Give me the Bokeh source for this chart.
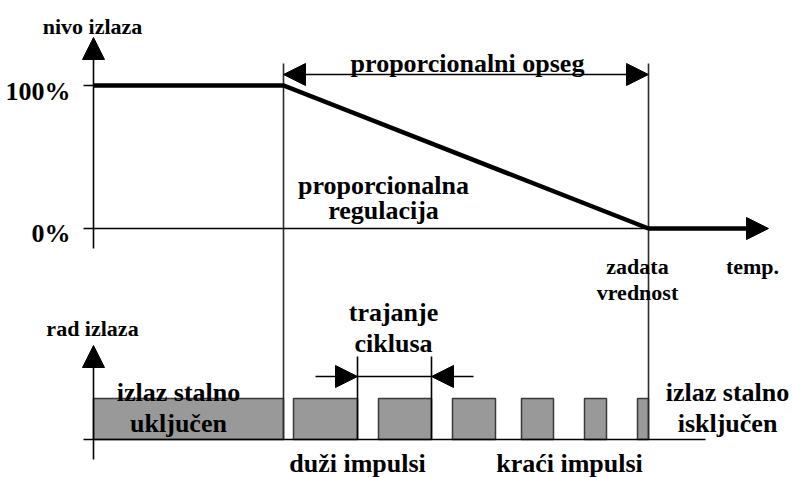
from bokeh.plotting import figure
from bokeh.models import Range1d, ColumnDataSource, Arrow, NormalHead
from bokeh.embed import file_html
from bokeh.resources import INLINE

# ---- diagram data (temperature axis units on x, diagram units on y) ----
x_axis = 93            # origin of both panels
band_start = 283       # start of proportional band
setpoint = 648         # zadata vrednost
temp_end = 768         # end of temperature arrow
level_100 = 85         # 100 % output
level_0 = 228          # 0 % output
top_axis_bottom = 248
top_axis_tip = 37
band_arrow_y = 74
band_line_top = 63

# output characteristic (nivo izlaza vs temp.)
curve_x = [x_axis, band_start, setpoint]
curve_y = [level_100, level_100, level_0]

# pulse train (rad izlaza)
pulse_base = 439
pulse_top = 398
bottom_axis_bottom = 459
bottom_axis_tip = 345
base_end = 705
pulse_start = [93, 293, 378, 452, 521, 584, 637]
pulse_end = [283, 357, 431, 495, 553, 606, 648]
cycle_left = 357
cycle_right = 431
cycle_y = 376
cycle_top = 356

# labels
lab_text = ["nivo izlaza", "100%", "0%", "proporcionalni opseg", "proporcionalna",
            "regulacija", "zadata", "vrednost", "temp.", "rad izlaza", "trajanje",
            "ciklusa", "izlaz stalno", "uključen", "izlaz stalno", "isključen",
            "duži impulsi", "kraći impulsi"]
lab_x = [92, 70, 70, 467, 383, 383, 637, 637, 752, 92, 393, 393, 178, 178, 727, 727, 357, 569]
lab_y = [26, 91, 233, 63, 185, 210, 266, 292, 266, 328, 312, 343, 392, 423, 392, 423, 463, 463]
lab_size = ["22px", "26px", "26px", "26px", "26px", "26px", "22px", "22px", "22px", "22px",
            "26px", "26px", "26px", "26px", "26px", "26px", "26px", "26px"]
lab_align = ["center", "right", "right"] + ["center"] * 15

p = figure(width=792, height=477, output_backend="svg", toolbar_location=None,
           x_range=Range1d(0, 792), y_range=Range1d(477, 0), min_border=0)
p.axis.visible = False
p.grid.visible = False
p.outline_line_color = None
p.background_fill_color = "white"

BLACK = "black"
GRAY_LINE = "#2b2b2b"

# pulses
p.quad(left=pulse_start, right=pulse_end, bottom=[pulse_base] * len(pulse_start),
       top=[pulse_top] * len(pulse_start), fill_color="#999999",
       line_color="#3a3a3a", line_width=1.5)

# vertical reference lines
p.segment(x0=[band_start, setpoint], y0=[band_line_top] * 2, x1=[band_start, setpoint],
          y1=[pulse_base] * 2, line_color=GRAY_LINE, line_width=1.6)
p.segment(x0=[cycle_left, cycle_right], y0=[cycle_top] * 2, x1=[cycle_left, cycle_right],
          y1=[pulse_base] * 2, line_color=BLACK, line_width=1.6)

# thin axis lines
p.segment(x0=[x_axis - 10, x_axis - 10, x_axis - 10], y0=[level_100, level_0, pulse_base],
          x1=[x_axis, setpoint, base_end], y1=[level_100, level_0, pulse_base],
          line_color=BLACK, line_width=1.6)

# thick characteristic
p.line(curve_x, curve_y, line_color=BLACK, line_width=4.5, line_join="miter")
p.line([setpoint, temp_end - 20], [level_0, level_0], line_color=BLACK, line_width=4.5)


def head():
    return NormalHead(size=22, fill_color=BLACK, line_color=BLACK, line_width=1)


arrows = [
    (x_axis, top_axis_bottom, x_axis, top_axis_tip, 1.6),
    (x_axis, bottom_axis_bottom, x_axis, bottom_axis_tip, 1.6),
    (setpoint, level_0, temp_end, level_0, 1.6),
    (315, cycle_y, cycle_left, cycle_y, 1.6),
    (473, cycle_y, cycle_right, cycle_y, 1.6),
]
for x0, y0, x1, y1, w in arrows:
    p.add_layout(Arrow(end=head(), x_start=x0, y_start=y0, x_end=x1, y_end=y1,
                       line_color=BLACK, line_width=w))
p.segment(x0=[cycle_left], y0=[cycle_y], x1=[cycle_right], y1=[cycle_y],
          line_color=BLACK, line_width=1.6)
p.add_layout(Arrow(start=head(), end=head(), x_start=band_start, y_start=band_arrow_y,
                   x_end=setpoint, y_end=band_arrow_y, line_color=BLACK, line_width=1.6))

src = ColumnDataSource(dict(x=lab_x, y=lab_y, text=lab_text, size=lab_size, align=lab_align))
p.text(x="x", y="y", text="text", text_font_size="size", text_align="align",
       text_baseline="alphabetic", text_font={"value": "Liberation Serif"},
       text_font_style="bold", text_color=BLACK, source=src)

open("out.html", "w").write(file_html(p, INLINE))
